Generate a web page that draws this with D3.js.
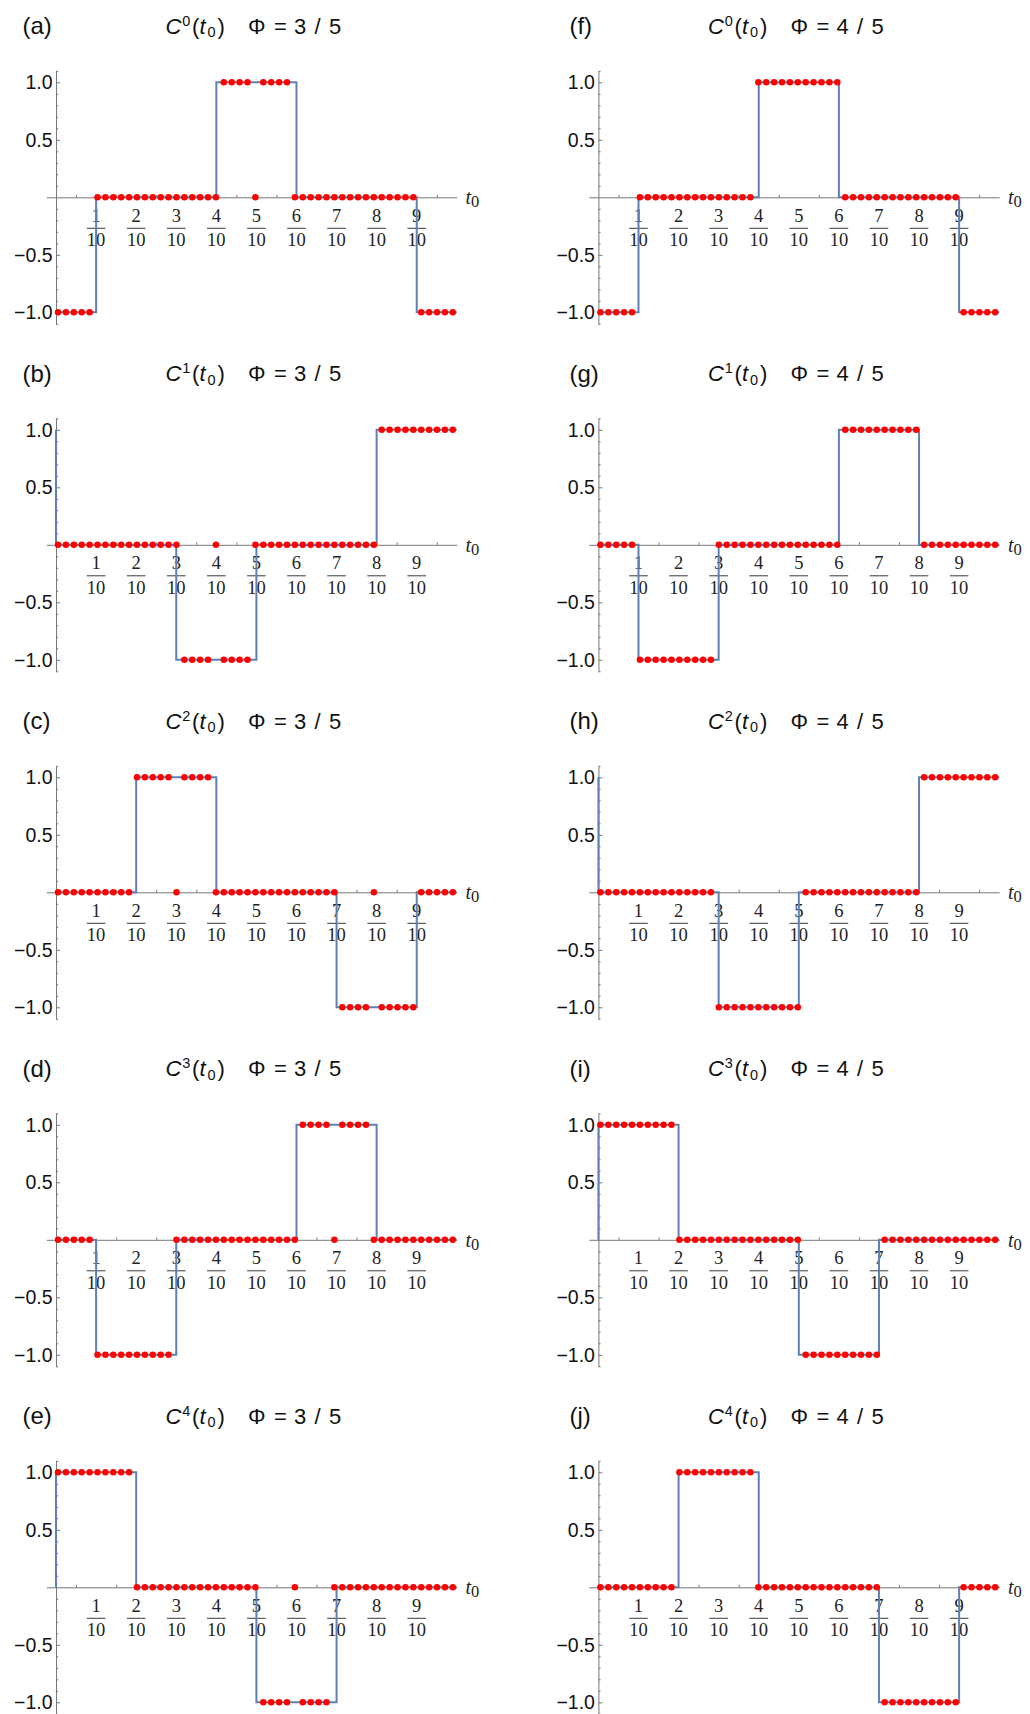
<!DOCTYPE html>
<html>
<head>
<meta charset="utf-8">
<script src="https://cdn.jsdelivr.net/npm/d3@7"></script>
<style>
body { margin: 0; background: #fff; }
</style>
</head>
<body>
<svg id="chart"></svg>
<script>
// ---- data ----
const panelLetters = [["(a)", "(b)", "(c)", "(d)", "(e)"], ["(f)", "(g)", "(h)", "(i)", "(j)"]];
const harmonics = [0, 1, 2, 3, 4];
const phiNumerators = ["3", "4"];      // Φ = n / 5
const phiDenominator = "5";
const fracNumerators = [1, 2, 3, 4, 5, 6, 7, 8, 9];
const fracDenominator = "10";
const yTickValues = [1.0, 0.5, -0.5, -1.0];
const yMinorValues = [1.1, 0.9, 0.8, 0.7, 0.6, 0.4, 0.3, 0.2, 0.1, -0.1, -0.2, -0.3, -0.4, -0.6, -0.7, -0.8, -0.9, -1.1];
const xMinorValues = [0.05, 0.15, 0.25, 0.35, 0.45, 0.55, 0.65, 0.75, 0.85, 0.95];

// corners of the blue step curve [t0, value], one list per panel
const stepsPhi35 = [
    [[0, -1], [0.1, 0], [0.4, 1], [0.6, 0], [0.9, -1], [1, -1]],
    [[0, 1], [0, 0], [0.3, -1], [0.5, 0], [0.8, 1], [1, 1]],
    [[0, 0], [0.2, 1], [0.4, 0], [0.7, -1], [0.9, 0], [1, 0]],
    [[0, 0], [0.1, -1], [0.3, 0], [0.6, 1], [0.8, 0], [1, 0]],
    [[0, 0], [0, 1], [0.2, 0], [0.5, -1], [0.7, 0], [1, 0]]
];
const stepsPhi45 = [
    [[0, -1], [0.1, 0], [0.4, 1], [0.6, 0], [0.9, -1], [1, -1]],
    [[0, 0], [0.1, -1], [0.3, 0], [0.6, 1], [0.8, 0], [1, 0]],
    [[0, 1], [0, 0], [0.3, -1], [0.5, 0], [0.8, 1], [1, 1]],
    [[0, 0], [0, 1], [0.2, 0], [0.5, -1], [0.7, 0], [1, 0]],
    [[0, 0], [0.2, 1], [0.4, 0], [0.7, -1], [0.9, 0], [1, 0]]
];

// red sample dots, as runs [value, count] over the 51 samples
const dotRunsPhi35 = [
    [[-1, 5], [0, 16], [1, 4], [0, 1], [1, 4], [0, 16], [-1, 5]],
    [[0, 16], [-1, 4], [0, 1], [-1, 4], [0, 16], [1, 10]],
    [[0, 10], [1, 5], [0, 1], [1, 4], [0, 16], [-1, 4], [0, 1], [-1, 5], [0, 5]],
    [[0, 5], [-1, 10], [0, 16], [1, 4], [0, 1], [1, 4], [0, 11]],
    [[1, 10], [0, 16], [-1, 4], [0, 1], [-1, 4], [0, 16]]
];
const dotRunsPhi45 = [
    [[-1, 5], [0, 15], [1, 11], [0, 15], [-1, 5]],
    [[0, 5], [-1, 10], [0, 16], [1, 10], [0, 10]],
    [[0, 15], [-1, 11], [0, 15], [1, 10]],
    [[1, 10], [0, 16], [-1, 10], [0, 15]],
    [[0, 10], [1, 10], [0, 16], [-1, 10], [0, 5]]
];
const sampleCount = 51;

// ---- layout ----
const width = 1030;
const height = 1714;
const colOffset = [0, 542.4];
const rowStep = 347.5;
const labelX = [22.5, 27];
const sans = "'Liberation Sans', Arial, sans-serif";
const serif = "'Liberation Serif', 'Times New Roman', serif";

const svg = d3.select("#chart").attr("width", width).attr("height", height);
svg.append("rect").attr("width", width).attr("height", height).attr("fill", "#fff");

function expandRuns(runs)
{
    const out = [];
    runs.forEach(([v, n]) => { for (let i = 0; i < n; i++) out.push(v); });
    return out;
}

const x = d3.scaleLinear().domain([-0.024, 1]).range([46.4, 456.8]);
const y = d3.scaleLinear().domain([-1.1, 1.1]).range([323.8, 70.8]);
const sampleT = d3.scaleLinear().domain([0, sampleCount - 1]).range([0.005, 0.99]);
const stepLine = d3.line().x(d => x(d[0])).y(d => y(d[1])).curve(d3.curveStepAfter);
const axisColor = "#777";

function drawPanel(col, row)
{
    const steps = col == 0 ? stepsPhi35[row] : stepsPhi45[row];
    const dots = expandRuns(col == 0 ? dotRunsPhi35[row] : dotRunsPhi45[row]);
    const g = svg.append("g").attr("transform", "translate(" + colOffset[col] + "," + row * rowStep + ")");

    //Panel letter
    g.append("text").attr("x", labelX[col]).attr("y", 34).style("font-family", sans).style("font-size", "24px")
        .attr("fill", "#111").text(panelLetters[col][row]);

    //Title C^n(t0)
    const t1 = g.append("text").attr("y", 33.5).style("font-family", sans).style("font-size", "22px").attr("fill", "#111");
    t1.append("tspan").attr("x", 165.5).style("font-style", "italic").text("C");
    t1.append("tspan").attr("x", 182.3).attr("dy", -8).style("font-size", "14.5px").text(harmonics[row]);
    t1.append("tspan").attr("x", 192).attr("dy", 8).text("(");
    t1.append("tspan").attr("x", 199.5).style("font-style", "italic").text("t");
    t1.append("tspan").attr("x", 207.5).attr("dy", 3.5).style("font-size", "14.5px").text("0");
    t1.append("tspan").attr("x", 217.5).attr("dy", -3.5).text(")");

    //Title Φ = n / 5
    const t2 = g.append("text").attr("y", 33.5).style("font-family", sans).style("font-size", "22px").attr("fill", "#111");
    t2.append("tspan").attr("x", 248).text("Φ");
    t2.append("tspan").attr("x", 274).text("=");
    t2.append("tspan").attr("x", 294).text(phiNumerators[col]);
    t2.append("tspan").attr("x", 314.5).text("/");
    t2.append("tspan").attr("x", 329).text(phiDenominator);

    //X axis
    const xa = g.append("g").attr("transform", "translate(0," + y(0) + ")")
        .call(d3.axisBottom(x).tickValues(xMinorValues).tickSizeInner(-2.5).tickSizeOuter(0).tickFormat(""));
    xa.selectAll("path, line").attr("stroke", axisColor);

    //Y axis
    const ya = g.append("g").attr("transform", "translate(" + x(0) + ",0)")
        .call(d3.axisLeft(y).tickValues(yMinorValues).tickSizeInner(-2.2).tickSizeOuter(0).tickFormat(""));
    ya.selectAll("path, line").attr("stroke", axisColor);
    const yb = g.append("g").attr("transform", "translate(" + x(0) + ",0)")
        .call(d3.axisLeft(y).tickValues(yTickValues).tickSizeInner(-4).tickSizeOuter(0).tickPadding(3.5).tickFormat(d3.format(".1f")));
    yb.select(".domain").remove();
    yb.selectAll("line").attr("stroke", axisColor);
    yb.selectAll("text").style("font-family", sans).style("font-size", "19.5px").attr("fill", "#111");

    //Fraction tick labels
    const fr = g.selectAll(".frac").data(fracNumerators).enter().append("g")
        .attr("transform", d => "translate(" + x(d / 10) + "," + y(0) + ")");
    fr.append("text").attr("y", 24.6).attr("text-anchor", "middle").style("font-family", serif)
        .style("font-size", "18.5px").attr("fill", "#222").text(d => d);
    fr.append("line").attr("x1", -9.3).attr("x2", 9.3).attr("y1", 31).attr("y2", 31).attr("stroke", "#222").attr("stroke-width", 0.9);
    fr.append("text").attr("y", 48.9).attr("text-anchor", "middle").style("font-family", serif)
        .style("font-size", "18.5px").attr("fill", "#222").text(fracDenominator);

    //Axis label t0
    const al = g.append("text").attr("x", 465.5).attr("y", y(0) + 6.7).style("font-family", serif).attr("fill", "#222");
    al.append("tspan").style("font-size", "20px").style("font-style", "italic").text("t");
    al.append("tspan").attr("dy", 3.4).style("font-size", "16.5px").text("0");

    //Step curve
    g.append("path").datum(steps).attr("d", stepLine).attr("fill", "none").attr("stroke", "#5E81B5").attr("stroke-width", 2);

    //Dots
    g.selectAll(".dot").data(dots).enter().append("circle").attr("class", "dot")
        .attr("cx", (d, i) => x(sampleT(i))).attr("cy", d => y(d)).attr("r", 3.25).attr("fill", "#FF0000");
}

for (let c = 0; c < 2; c++)
{
    for (let r = 0; r < 5; r++)
    {
        drawPanel(c, r);
    }
}
</script>
</body>
</html>
